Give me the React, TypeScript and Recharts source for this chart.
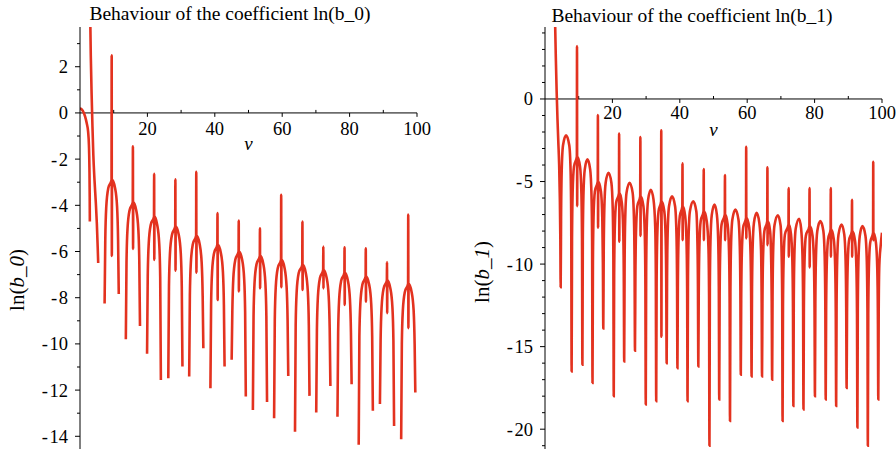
import React from "react";
import { Line, LineChart, ReferenceDot, ReferenceLine, XAxis, YAxis } from "recharts";

type Pt = [number, number | null];

// ln(b_0): curve pieces, null = gap (b_0 < 0)
const b0Points: Pt[] = [
  [0, 0.2], [0.8, 0.1], [1.5, -0.15], [2.0, -0.45], [2.4, -0.8], [2.65, -1.4], [2.8, -2.4], [2.88, -3.6], [2.92, -4.7], [2.96, null],
  [3.0, 4.5], [3.2, 2.5], [3.45, 0.8], [3.7, -0.6], [3.95, -1.8], [4.3, -2.9], [4.7, -3.9], [5.0, -4.8], [5.25, -5.8], [5.4, -6.5], [5.5, null],
  [7.3, -8.25], [7.5, -5.5], [7.8, -4.05], [8.4, -3.25], [9.35, -2.9], [9.4, 2.5], [9.45, -6.19], [9.5, -2.9], [10.4, -3.25], [11.0, -4.05], [11.3, -5.5], [11.5, -7.84], [11.8, null],
  [13.6, -9.8], [13.8, -6.47], [14.1, -5.02], [14.7, -4.22], [15.65, -3.87], [15.7, -1.45], [15.75, -5.89], [15.8, -3.87], [16.7, -4.22], [17.3, -5.02], [17.6, -6.47], [17.8, -9.22], [18.1, null],
  [19.9, -10.43], [20.1, -7.09], [20.4, -5.64], [21.0, -4.84], [21.95, -4.49], [22.0, -2.64], [22.05, -6.36], [22.1, -4.49], [22.9, -4.84], [23.5, -5.64], [23.8, -7.09], [24.0, -11.56], [24.3, null],
  [26.2, -11.49], [26.4, -7.52], [26.7, -6.07], [27.3, -5.27], [28.25, -4.92], [28.3, -2.87], [28.35, -6.83], [28.4, -4.92], [29.3, -5.27], [29.9, -6.07], [30.2, -7.52], [30.4, -10.98], [30.7, null],
  [32.4, -11.41], [32.6, -7.92], [32.9, -6.47], [33.5, -5.67], [34.45, -5.32], [34.5, -2.55], [34.55, -6.92], [34.6, -5.32], [35.5, -5.67], [36.1, -6.47], [36.4, -7.92], [36.6, -10.19], [36.9, null],
  [38.7, -11.92], [38.9, -8.31], [39.2, -6.86], [39.8, -6.06], [40.75, -5.71], [40.8, -4.34], [40.85, -8.1], [40.9, -5.71], [41.8, -6.06], [42.4, -6.86], [42.7, -8.31], [42.9, -10.98], [43.2, null],
  [45.0, -10.69], [45.2, -8.6], [45.5, -7.15], [46.1, -6.35], [47.05, -6.0], [47.1, -4.66], [47.15, -7.73], [47.2, -6.0], [48.1, -6.35], [48.7, -7.15], [49.0, -8.6], [49.2, -12.28], [49.5, null],
  [51.3, -12.86], [51.5, -8.79], [51.8, -7.34], [52.4, -6.54], [53.35, -6.19], [53.4, -4.99], [53.45, -7.59], [53.5, -6.19], [54.4, -6.54], [55.0, -7.34], [55.3, -8.79], [55.5, -12.52], [55.8, null],
  [57.6, -13.22], [57.8, -8.96], [58.1, -7.51], [58.7, -6.71], [59.65, -6.36], [59.7, -3.55], [59.75, -7.55], [59.8, -6.36], [60.7, -6.71], [61.3, -7.51], [61.6, -8.96], [61.8, -11.39], [62.1, null],
  [63.8, -13.8], [64.0, -9.18], [64.3, -7.73], [64.9, -6.93], [65.95, -6.58], [66.0, -4.7], [66.05, -7.66], [66.1, -6.58], [67.0, -6.93], [67.6, -7.73], [67.9, -9.18], [68.1, -12.25], [68.4, null],
  [70.1, -12.97], [70.3, -9.4], [70.6, -7.95], [71.2, -7.15], [72.15, -6.8], [72.2, -5.78], [72.25, -7.6], [72.3, -6.8], [73.2, -7.15], [73.8, -7.95], [74.1, -9.4], [74.3, -11.82], [74.6, null],
  [76.4, -13.15], [76.6, -9.52], [76.9, -8.07], [77.5, -7.27], [78.45, -6.92], [78.5, -5.82], [78.55, -8.31], [78.6, -6.92], [79.5, -7.27], [80.1, -8.07], [80.4, -9.52], [80.6, -11.75], [80.9, null],
  [82.7, -14.37], [82.9, -9.68], [83.2, -8.23], [83.8, -7.43], [84.75, -7.08], [84.8, -5.86], [84.85, -8.17], [84.9, -7.08], [85.8, -7.43], [86.4, -8.23], [86.7, -9.68], [86.9, -12.89], [87.2, null],
  [89.0, -12.6], [89.2, -9.85], [89.5, -8.4], [90.1, -7.6], [91.05, -7.25], [91.1, -6.46], [91.15, -8.67], [91.2, -7.25], [92.1, -7.6], [92.7, -8.4], [93.0, -9.85], [93.2, -13.55], [93.5, null],
  [95.3, -14.13], [95.5, -10.0], [95.8, -8.55], [96.4, -7.75], [97.35, -7.4], [97.4, -4.4], [97.45, -9.32], [97.5, -7.4], [98.4, -7.75], [99.0, -8.55], [99.3, -10.0], [99.5, -12.1],
];

// ln(b_1)
const b1Points: Pt[] = [
  [3.0, 4.6], [3.2, 2.6], [3.45, 0.5], [3.7, -1.2], [3.95, -2.6], [4.2, -4.0], [4.4, -6.0], [4.55, -8.5], [4.65, -11.4],
  [4.77, -7.2], [4.95, -4.4], [5.35, -2.8], [6.25, -2.2], [7.2, -2.8], [7.6, -4.4], [7.78, -7.2], [7.9, -16.5],
  [8.02, -8.5], [8.2, -5.7], [8.6, -4.1], [9.45, -3.5], [9.5, 3.2], [9.55, -6.5], [9.6, -3.5], [10.4, -4.1], [10.8, -5.7], [10.98, -8.5], [11.1, -16.1],
  [11.22, -8.66], [11.4, -5.86], [11.8, -4.26], [12.6, -3.66], [13.4, -4.26], [13.8, -5.86], [13.98, -8.66], [14.1, -17.2],
  [14.22, -10.0], [14.4, -7.2], [14.8, -5.6], [15.65, -5.0], [15.7, -0.97], [15.75, -7.8], [15.8, -5.0], [16.6, -5.6], [17.0, -7.2], [17.18, -10.0], [17.3, -13.9],
  [17.42, -9.47], [17.6, -6.67], [18.0, -5.07], [18.85, -4.47], [19.7, -5.07], [20.1, -6.67], [20.28, -9.47], [20.4, -18.0],
  [20.52, -10.7], [20.7, -7.9], [21.1, -6.3], [21.95, -5.7], [22.0, -2.1], [22.05, -8.65], [22.1, -5.7], [22.8, -6.3], [23.2, -7.9], [23.38, -10.7], [23.5, -15.9],
  [23.62, -10.07], [23.8, -7.27], [24.2, -5.67], [25.1, -5.07], [26.0, -5.67], [26.4, -7.27], [26.58, -10.07], [26.7, -15.25],
  [26.82, -10.9], [27.0, -8.1], [27.4, -6.5], [28.25, -5.9], [28.3, -2.3], [28.35, -8.3], [28.4, -5.9], [29.2, -6.5], [29.6, -8.1], [29.78, -10.9], [29.9, -18.5],
  [30.02, -10.5], [30.2, -7.7], [30.6, -6.1], [31.4, -5.5], [32.2, -6.1], [32.7, -7.7], [32.88, -10.5], [33.0, -18.3],
  [33.12, -11.2], [33.3, -8.4], [33.7, -6.8], [34.45, -6.2], [34.5, -1.9], [34.55, -14.4], [34.6, -6.2], [35.4, -6.8], [35.8, -8.4], [35.98, -11.2], [36.1, -16.0],
  [36.22, -10.9], [36.4, -8.1], [36.8, -6.5], [37.7, -5.9], [38.6, -6.5], [39.0, -8.1], [39.18, -10.9], [39.3, -16.3],
  [39.42, -11.5], [39.6, -8.7], [40.0, -7.1], [40.75, -6.5], [40.8, -3.9], [40.85, -8.55], [40.9, -6.5], [41.6, -7.1], [42.0, -8.7], [42.18, -11.5], [42.3, -18.3],
  [42.42, -11.2], [42.6, -8.4], [43.0, -6.8], [44.0, -6.2], [44.9, -6.8], [45.2, -8.4], [45.38, -11.2], [45.5, -16.2],
  [45.62, -11.8], [45.8, -9.0], [46.2, -7.4], [47.05, -6.8], [47.1, -4.24], [47.15, -8.55], [47.2, -6.8], [48.0, -7.4], [48.5, -9.0], [48.68, -11.8], [48.8, -21.0],
  [48.92, -11.4], [49.1, -8.6], [49.5, -7.0], [50.3, -6.4], [51.0, -7.0], [51.4, -8.6], [51.58, -11.4], [51.7, -18.2],
  [51.82, -12.0], [52.0, -9.2], [52.4, -7.6], [53.35, -7.0], [53.4, -4.6], [53.45, -8.55], [53.5, -7.0], [54.2, -7.6], [54.6, -9.2], [54.78, -12.0], [54.9, -19.5],
  [55.02, -11.7], [55.2, -8.9], [55.6, -7.3], [56.5, -6.7], [57.4, -7.3], [57.8, -8.9], [57.98, -11.7], [58.1, -16.7],
  [58.22, -12.2], [58.4, -9.4], [58.8, -7.8], [59.65, -7.2], [59.7, -2.9], [59.75, -8.45], [59.8, -7.2], [60.6, -7.8], [61.0, -9.4], [61.18, -12.2], [61.3, -16.8],
  [61.42, -11.9], [61.6, -9.1], [62.0, -7.5], [62.8, -6.9], [63.6, -7.5], [64.1, -9.1], [64.28, -11.9], [64.4, -16.8],
  [64.52, -12.4], [64.7, -9.6], [65.1, -8.0], [65.95, -7.4], [66.0, -4.14], [66.05, -8.85], [66.1, -7.4], [66.8, -8.0], [67.1, -9.6], [67.28, -12.4], [67.4, -17.0],
  [67.52, -12.05], [67.7, -9.25], [68.1, -7.65], [69.1, -7.05], [69.9, -7.65], [70.2, -9.25], [70.38, -12.05], [70.5, -19.5],
  [70.62, -12.6], [70.8, -9.8], [71.2, -8.2], [72.25, -7.6], [72.3, -5.4], [72.35, -9.55], [72.4, -7.6], [73.0, -8.2], [73.4, -9.8], [73.58, -12.6], [73.7, -18.6],
  [73.82, -12.25], [74.0, -9.45], [74.4, -7.85], [75.4, -7.25], [76.0, -7.85], [76.4, -9.45], [76.58, -12.25], [76.7, -18.8],
  [76.82, -12.7], [77.0, -9.9], [77.4, -8.3], [78.45, -7.7], [78.5, -5.4], [78.55, -10.2], [78.6, -7.7], [79.4, -8.3], [79.8, -9.9], [79.98, -12.7], [80.1, -18.0],
  [80.22, -12.4], [80.4, -9.6], [80.8, -8.0], [81.7, -7.4], [82.6, -8.0], [83.0, -9.6], [83.18, -12.4], [83.3, -18.2],
  [83.42, -12.9], [83.6, -10.1], [84.0, -8.5], [84.75, -7.9], [84.8, -5.4], [84.85, -9.55], [84.9, -7.9], [85.7, -8.5], [86.1, -10.1], [86.28, -12.9], [86.4, -18.6],
  [86.52, -12.6], [86.7, -9.8], [87.1, -8.2], [88.0, -7.6], [88.8, -8.2], [89.2, -9.8], [89.38, -12.6], [89.5, -17.5],
  [89.62, -13.0], [89.8, -10.2], [90.2, -8.6], [91.05, -8.0], [91.1, -6.1], [91.15, -9.55], [91.2, -8.0], [92.0, -8.6], [92.4, -10.2], [92.58, -13.0], [92.7, -19.9],
  [92.82, -12.7], [93.0, -9.9], [93.4, -8.3], [94.2, -7.7], [95.1, -8.3], [95.5, -9.9], [95.68, -12.7], [95.8, -21.0],
  [95.92, -13.1], [96.1, -10.3], [96.5, -8.7], [97.35, -8.1], [97.4, -3.8], [97.45, -8.55], [97.5, -8.1], [98.2, -8.7], [98.6, -10.3], [98.78, -13.1], [98.9, -18.2],
  [99.02, -12.9], [99.2, -10.1], [99.6, -8.9], [100, -8.1],
];

const xMajor = [20, 40, 60, 80, 100];
const xMinor = [10, 30, 50, 70, 90];
const b0YTicks = [3, 2, 1, 0, -1, -2, -3, -4, -5, -6, -7, -8, -9, -10, -11, -12, -13, -14];
const b0YLabels = [2, 0, -2, -4, -6, -8, -10, -12, -14];
const b1YTicks = [4, 3, 2, 1, 0, -1, -2, -3, -4, -5, -6, -7, -8, -9, -10, -11, -12, -13, -14, -15, -16, -17, -18, -19, -20, -21];
const b1YLabels = [0, -5, -10, -15, -20];

const FONT = "'Liberation Serif', 'Times New Roman', serif";
const RED = "#e3321f";

function fmt(n: number) {
  return n < 0 ? "-\u200a" + Math.abs(n) : String(n);
}

function YTick(props: any) {
  const { x, y, payload, labels } = props;
  const major = labels.includes(payload.value);
  return (
    <g>
      <line x1={x - (major ? 5 : 3)} x2={x} y1={y} y2={y} stroke="#000" strokeWidth={1} />
      {major && (
        <text x={x - 12} y={y} dy="0.35em" textAnchor="end" fontSize={18.5} fontFamily={FONT} fill="#000">
          {fmt(payload.value)}
        </text>
      )}
    </g>
  );
}

type PanelProps = {
  points: Pt[];
  yDomain: [number, number];
  yTicks: number[];
  yLabels: number[];
  width: number;
  margin: { top: number; right: number; bottom: number; left: number };
  majorLen: number;
  minorLen: number;
  tickLabelOffset: number;
};

function Panel({ points, yDomain, yTicks, yLabels, width, margin, majorLen, minorLen, tickLabelOffset }: PanelProps) {
  const data = points.map(([v, y]) => ({ v, y }));
  return (
    <LineChart width={width} height={449} data={data} margin={margin}>
      <XAxis type="number" dataKey="v" domain={[0, 100]} hide allowDataOverflow />
      <YAxis
        type="number"
        domain={yDomain}
        allowDataOverflow
        ticks={yTicks}
        interval={0}
        width={60}
        tickSize={0}
        tickMargin={0}
        tickLine={false}
        axisLine={{ stroke: "#000", strokeWidth: 1 }}
        tick={<YTick labels={yLabels} />}
      />
      <ReferenceLine y={0} stroke="#000" strokeWidth={1} />
      {xMajor.map((t) => (
        <ReferenceLine key={"M" + t} segment={[{ x: t, y: 0 }, { x: t, y: -majorLen }]} stroke="#000" strokeWidth={1} />
      ))}
      {xMinor.map((t) => (
        <ReferenceLine key={"m" + t} segment={[{ x: t, y: 0 }, { x: t, y: minorLen }]} stroke="#000" strokeWidth={1} />
      ))}
      {xMajor.map((t) => (
        <ReferenceDot
          key={"L" + t}
          x={t}
          y={0}
          r={0}
          fill="none"
          stroke="none"
          label={{ value: String(t), position: "bottom", offset: tickLabelOffset, fontSize: 18.5, fontFamily: FONT, fill: "#000" }}
        />
      ))}
      <ReferenceDot
        x={50}
        y={0}
        r={0}
        fill="none"
        stroke="none"
        label={{ value: "v", position: "bottom", offset: 24, fontSize: 19, fontFamily: FONT, fontStyle: "italic", fill: "#000" }}
      />
      <Line
        type="monotone"
        dataKey="y"
        stroke={RED}
        strokeWidth={2.6}
        dot={false}
        activeDot={false}
        connectNulls={false}
        isAnimationActive={false}
      />
    </LineChart>
  );
}

const titleStyle: React.CSSProperties = {
  position: "absolute",
  width: 400,
  textAlign: "center",
  fontFamily: FONT,
  fontSize: 19.5,
  lineHeight: "20px",
  whiteSpace: "nowrap",
  color: "#000",
};

const yLabelStyle: React.CSSProperties = {
  position: "absolute",
  transform: "translate(-50%, -50%) rotate(-90deg)",
  fontFamily: FONT,
  fontSize: 21,
  whiteSpace: "nowrap",
  color: "#000",
};

export default function App() {
  return (
    <div style={{ position: "absolute", left: 0, top: 0, width: 896, height: 449, background: "#fff", overflow: "hidden" }}>
      <div style={{ position: "absolute", left: 0, top: 0 }}>
        <Panel
          points={b0Points}
          yDomain={[-14.55, 3.72]}
          yTicks={b0YTicks}
          yLabels={b0YLabels}
          width={450}
          margin={{ top: 27, right: 33, bottom: 0, left: 20 }}
          majorLen={0.17}
          minorLen={0.13}
          tickLabelOffset={8.7}
        />
      </div>
      <div style={{ position: "absolute", left: 450, top: 0 }}>
        <Panel
          points={b1Points}
          yDomain={[-21.2, 4.36]}
          yTicks={b1YTicks}
          yLabels={b1YLabels}
          width={446}
          margin={{ top: 27, right: 14, bottom: 0, left: 35 }}
          majorLen={0.24}
          minorLen={0.18}
          tickLabelOffset={7}
        />
      </div>
      <div style={{ ...titleStyle, left: 30, top: 4 }}>Behaviour of the coefficient ln(b_0)</div>
      <div style={{ ...titleStyle, left: 492, top: 6 }}>Behaviour of the coefficient ln(b_1)</div>
      <div style={{ ...yLabelStyle, left: 17, top: 280 }}>
        ln(<i>b</i>_<i>0</i>)
      </div>
      <div style={{ ...yLabelStyle, left: 482, top: 272 }}>
        ln(<i>b</i>_<i>1</i>)
      </div>
    </div>
  );
}
